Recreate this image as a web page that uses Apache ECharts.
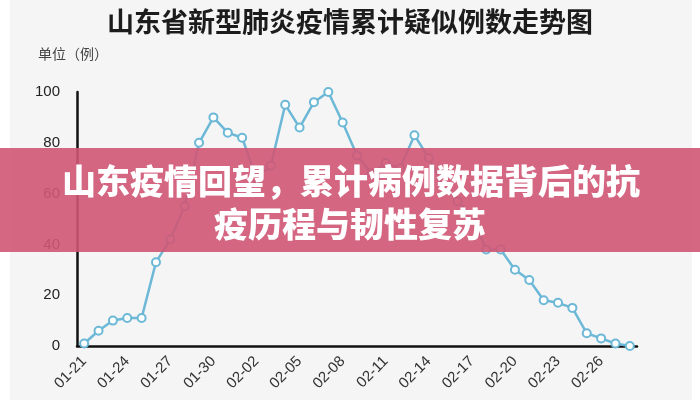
<!DOCTYPE html>
<html>
<head>
<meta charset="utf-8">
<script src="https://cdn.jsdelivr.net/npm/echarts@6/dist/echarts.min.js"></script>
<style>
  html, body { margin: 0; padding: 0; background: #fff; }
  #chart { width: 700px; height: 400px; }
</style>
</head>
<body>
<div id="chart"></div>
<script>
// 山东省累计疑似例数（按日）
const dates = [
  '01-21', '01-22', '01-23', '01-24', '01-25', '01-26', '01-27', '01-28', '01-29', '01-30', '01-31',
  '02-01', '02-02', '02-03', '02-04', '02-05', '02-06', '02-07', '02-08', '02-09', '02-10',
  '02-11', '02-12', '02-13', '02-14', '02-15', '02-16', '02-17', '02-18', '02-19', '02-20',
  '02-21', '02-22', '02-23', '02-24', '02-25', '02-26', '02-27', '02-28'
];
const suspected = [
  1, 6, 10, 11, 11, 33, 42, 55, 80, 90, 84,
  82, 66, 71, 95, 86, 96, 100, 88, 75, 68,
  72, 70, 83, 74, 63, 57, 51, 38, 38, 30,
  26, 18, 17, 15, 5, 3, 1, 0
];
const yTicks = [0, 20, 40, 60, 80, 100];

const titleText = '山东省新型肺炎疫情累计疑似例数走势图';
const unitText = '单位（例）';
const bannerLines = ['山东疫情回望，累计病例数据背后的抗', '疫历程与韧性复苏'];

const cjk = '"Noto Sans CJK SC", "Noto Sans", sans-serif';
const latin = '"Liberation Sans", Arial, sans-serif';

const chart = echarts.init(document.getElementById('chart'));
chart.setOption({
  animation: false,
  title: [
    {
      text: titleText,
      left: 'center',
      top: 3,
      textStyle: { fontFamily: cjk, fontSize: 27, fontWeight: 'bold', color: '#1c1c1c' }
    },
    {
      text: unitText,
      left: 33,
      top: 42,
      textStyle: { fontFamily: cjk, fontSize: 14, fontWeight: 'normal', color: '#444' }
    }
  ],
  grid: { left: 77, right: 63, top: 92, bottom: 54 },
  xAxis: {
    type: 'category',
    data: dates,
    boundaryGap: true,
    axisLine: { lineStyle: { color: '#111', width: 2.5 } },
    axisTick: { show: false },
    axisLabel: {
      interval: 2,
      rotate: 45,
      margin: 13,
      fontFamily: latin,
      fontSize: 15,
      color: '#333'
    }
  },
  yAxis: {
    type: 'value',
    min: yTicks[0],
    max: yTicks[yTicks.length - 1],
    interval: 20,
    splitLine: { show: false },
    axisLine: { show: true, lineStyle: { color: '#111', width: 2.5 } },
    axisTick: { show: false },
    axisLabel: { margin: 17, fontFamily: latin, fontSize: 15, color: '#222' }
  },
  series: [{
    type: 'line',
    data: suspected,
    symbol: 'emptyCircle',
    symbolSize: 8,
    lineStyle: { color: '#6cb8d6', width: 2.5 },
    itemStyle: { color: '#6cb8d6', borderWidth: 2 },
    z: 3
  }],
  graphic: [
    {
      type: 'rect',
      z: -10,
      silent: true,
      shape: { x: 10, y: 0, width: 682, height: 400 },
      style: { fill: '#f5f5f5' }
    },
    {
      type: 'rect',
      z: 100,
      silent: true,
      shape: { x: 0, y: 148, width: 700, height: 104 },
      style: { fill: 'rgba(208,86,118,0.9)' }
    },
    {
      type: 'text',
      z: 101,
      silent: true,
      x: 351,
      y: 181,
      style: {
        text: bannerLines[0],
        fill: '#fff',
        fontFamily: cjk,
        fontSize: 34,
        fontWeight: 900,
        textAlign: 'center',
        textVerticalAlign: 'middle'
      }
    },
    {
      type: 'text',
      z: 101,
      silent: true,
      x: 350,
      y: 224,
      style: {
        text: bannerLines[1],
        fill: '#fff',
        fontFamily: cjk,
        fontSize: 34,
        fontWeight: 900,
        textAlign: 'center',
        textVerticalAlign: 'middle'
      }
    }
  ]
});
</script>
</body>
</html>
